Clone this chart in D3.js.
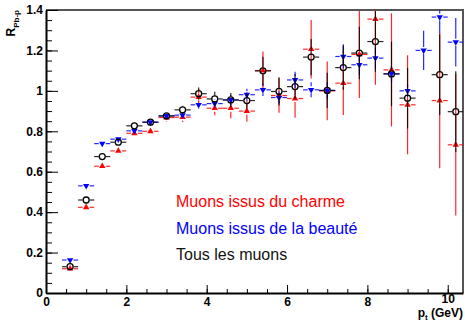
<!DOCTYPE html>
<html>
<head>
<meta charset="utf-8">
<script src="https://cdn.jsdelivr.net/npm/d3@7"></script>
<style>
  body { margin: 0; background: #fff; }
</style>
</head>
<body>
<div id="chart"></div>
<script>
// pt bin centres (GeV)
const ptBins = [0.6, 1.0, 1.4, 1.8, 2.2, 2.6, 3.0, 3.4, 3.8, 4.2, 4.6, 5.0,
                5.4, 5.8, 6.2, 6.6, 7.0, 7.4, 7.8, 8.2, 8.6, 9.0, 9.8, 10.2];
const ptBinsBeaute = [0.6, 1.0, 1.4, 1.8, 2.2, 2.6, 3.0, 3.4, 3.8, 4.2, 4.6, 5.0,
                      5.4, 5.8, 6.2, 6.6, 7.0, 7.4, 7.8, 8.2, 8.6, 9.0, 9.4, 9.8, 10.2];
const ptHalfWidth = 0.2;

// muons issus du charme
const rCharme = [0.12, 0.424, 0.627, 0.703, 0.79, 0.80, 0.868, 0.87, 0.969, 0.914, 0.914, 0.90,
                 1.10, 0.977, 0.962, 1.206, 1.0, 1.038, 1.18, 1.355, 1.104, 0.931, 0.952, 0.733];
const errCharme = [0.005, 0.01, 0.012, 0.012, 0.015, 0.015, 0.02, 0.025, 0.04, 0.035, 0.05, 0.053,
                   0.095, 0.085, 0.095, 0.145, 0.145, 0.157, 0.215, 0.325, 0.28, 0.245, 0.335, 0.35];

// muons issus de la beaute
const rBeaute = [0.163, 0.53, 0.739, 0.761, 0.802, 0.845, 0.876, 0.88, 0.931, 0.937, 0.955, 0.981,
                 1.005, 0.967, 1.054, 1.005, 1.002, 1.17, 1.129, 1.162, 1.084, 1.0, 1.2, 1.365, 1.241];
const errBeaute = [0.005, 0.005, 0.008, 0.008, 0.01, 0.01, 0.01, 0.015, 0.02, 0.02, 0.025, 0.03,
                   0.03, 0.03, 0.04, 0.037, 0.04, 0.06, 0.05, 0.05, 0.04, 0.03, 0.097, 0.08, 0.12];

// tous les muons
const rTous = [0.13, 0.46, 0.675, 0.746, 0.827, 0.845, 0.876, 0.906, 0.986, 0.96, 0.955, 0.952,
               1.099, 0.997, 1.021, 1.167, 1.002, 1.115, 1.187, 1.244, 1.084, 0.964, 1.08, 0.897];
const errTous = [0.005, 0.008, 0.01, 0.01, 0.01, 0.01, 0.012, 0.02, 0.03, 0.035, 0.035, 0.04,
                 0.07, 0.07, 0.063, 0.09, 0.087, 0.11, 0.13, 0.15, 0.16, 0.15, 0.2, 0.2];

const legendLabels = ['Muons issus du charme', 'Muons issus de la beauté', 'Tous les muons'];

const xTickValues = [0, 2, 4, 6, 8, 10];
const xTickLabels = ['0', '2', '4', '6', '8', '10'];
const yTickValues = [0, 0.2, 0.4, 0.6, 0.8, 1, 1.2, 1.4];
const yTickLabels = ['0', '0.2', '0.4', '0.6', '0.8', '1', '1.2', '1.4'];

document.addEventListener('DOMContentLoaded', () => {
    const svgWidth = 465;
    const svgHeight = 321;
    const margin = { top: 10, right: 2, bottom: 28, left: 46 };
    const width = svgWidth - margin.left - margin.right;
    const height = svgHeight - margin.top - margin.bottom;

    const svg = d3.select('#chart').append('svg')
        .attr('width', svgWidth)
        .attr('height', svgHeight)
        .style('font-family', 'Liberation Sans, Arial, Helvetica, sans-serif');

    const g = svg.append('g')
        .attr('transform', `translate(${margin.left},${margin.top})`);

    const x = d3.scaleLinear().domain([0, 10.38]).range([0, width]);
    const y = d3.scaleLinear().domain([0, 1.4]).range([height, 0]);

    // frame (top and right in grey)
    g.append('path')
        .attr('d', `M0,0H${width}V${height}`)
        .attr('fill', 'none')
        .attr('stroke', '#555')
        .attr('stroke-width', 2);

    // minor ticks
    g.append('g')
        .attr('transform', `translate(0,${height})`)
        .call(d3.axisBottom(x).tickValues(d3.range(0, 10.4, 0.5)).tickSize(-4).tickSizeOuter(0).tickFormat(''))
        .call(a => a.select('.domain').remove());
    g.append('g')
        .call(d3.axisLeft(y).tickValues(d3.range(0, 1.41, 0.05)).tickSize(-6).tickSizeOuter(0).tickFormat(''))
        .call(a => a.select('.domain').remove());

    // major ticks + labels
    const xAxis = g.append('g')
        .attr('transform', `translate(0,${height})`)
        .call(d3.axisBottom(x).tickValues(xTickValues).tickSize(-8).tickSizeOuter(0).tickPadding(4)
            .tickFormat((d, i) => xTickLabels[i]));
    const yAxis = g.append('g')
        .call(d3.axisLeft(y).tickValues(yTickValues).tickSize(-12).tickSizeOuter(0).tickPadding(3)
            .tickFormat((d, i) => yTickLabels[i]));
    [xAxis, yAxis].forEach(a => {
        a.select('.domain').attr('stroke', '#000').attr('stroke-width', 2);
        a.selectAll('text')
            .attr('font-size', 12)
            .attr('font-weight', 'bold')
            .attr('fill', '#000')
            .style('font-family', 'Liberation Sans, Arial, sans-serif');
    });
    g.selectAll('.tick line').attr('stroke', '#000');
    // last label sits a little higher, above the axis title
    xAxis.selectAll('.tick text').filter(d => d === 10).attr('y', 1);

    // axis titles
    const xTitle = svg.append('text')
        .attr('x', 463)
        .attr('y', 317)
        .attr('text-anchor', 'end')
        .attr('font-size', 12)
        .attr('font-weight', 'bold');
    xTitle.append('tspan').text('p');
    xTitle.append('tspan').attr('font-size', 8).attr('dy', 3).text('t');
    xTitle.append('tspan').attr('dy', -3).text(' (GeV)');

    const yTitle = svg.append('text')
        .attr('transform', 'translate(15,10) rotate(-90)')
        .attr('text-anchor', 'end')
        .attr('font-size', 12)
        .attr('font-weight', 'bold');
    yTitle.append('tspan').text('R');
    yTitle.append('tspan').attr('font-size', 8).attr('dy', 4).text('Pb-p');

    // clip the points to the frame
    svg.append('defs').append('clipPath').attr('id', 'frame')
        .append('rect').attr('width', width).attr('height', height);
    const plot = g.append('g').attr('clip-path', 'url(#frame)');

    function drawSeries(pts, vals, errs, color, marker) {
        const data = pts.map((p, i) => ({ p, v: vals[i], e: errs[i] }));
        const gap = 3.5;
        const s = plot.append('g');
        const segs = [];
        data.forEach(d => {
            const cx = x(d.p), cy = y(d.v);
            const top = y(d.v + d.e), bot = y(d.v - d.e);
            if (cy - gap > top) segs.push([cx, top, cx, cy - gap]);
            if (bot > cy + gap) segs.push([cx, cy + gap, cx, bot]);
            segs.push([x(d.p - ptHalfWidth), cy, cx - gap, cy]);
            segs.push([cx + gap, cy, x(d.p + ptHalfWidth), cy]);
        });
        s.selectAll('line')
            .data(segs)
            .enter().append('line')
            .attr('x1', d => d[0]).attr('y1', d => d[1])
            .attr('x2', d => d[2]).attr('y2', d => d[3])
            .attr('stroke', color)
            .attr('stroke-width', 1.2)
            .attr('stroke-opacity', 0.85);

        if (marker === 'circle') {
            s.selectAll('circle')
                .data(data)
                .enter().append('circle')
                .attr('cx', d => x(d.p))
                .attr('cy', d => y(d.v))
                .attr('r', 3)
                .attr('fill', 'none')
                .attr('stroke', color)
                .attr('stroke-width', 1.3);
        } else {
            const rot = marker === 'down' ? 180 : 0;
            s.selectAll('path')
                .data(data)
                .enter().append('path')
                .attr('d', d3.symbol(d3.symbolTriangle, 18))
                .attr('transform', d => `translate(${x(d.p)},${y(d.v)}) rotate(${rot})`)
                .attr('fill', color);
        }
    }

    drawSeries(ptBins, rCharme, errCharme, '#ff0000', 'up');
    drawSeries(ptBinsBeaute, rBeaute, errBeaute, '#0000ff', 'down');
    drawSeries(ptBins, rTous, errTous, '#000000', 'circle');

    // legend
    const legendColors = ['#ff0000', '#0000ff', '#111'];
    const legendY = [207, 233.5, 260];
    svg.selectAll('.legend')
        .data(legendLabels)
        .enter().append('text')
        .attr('class', 'legend')
        .attr('x', 176)
        .attr('y', (d, i) => legendY[i])
        .attr('font-size', 16)
        .attr('fill', (d, i) => legendColors[i])
        .text(d => d);
});
</script>
</body>
</html>
